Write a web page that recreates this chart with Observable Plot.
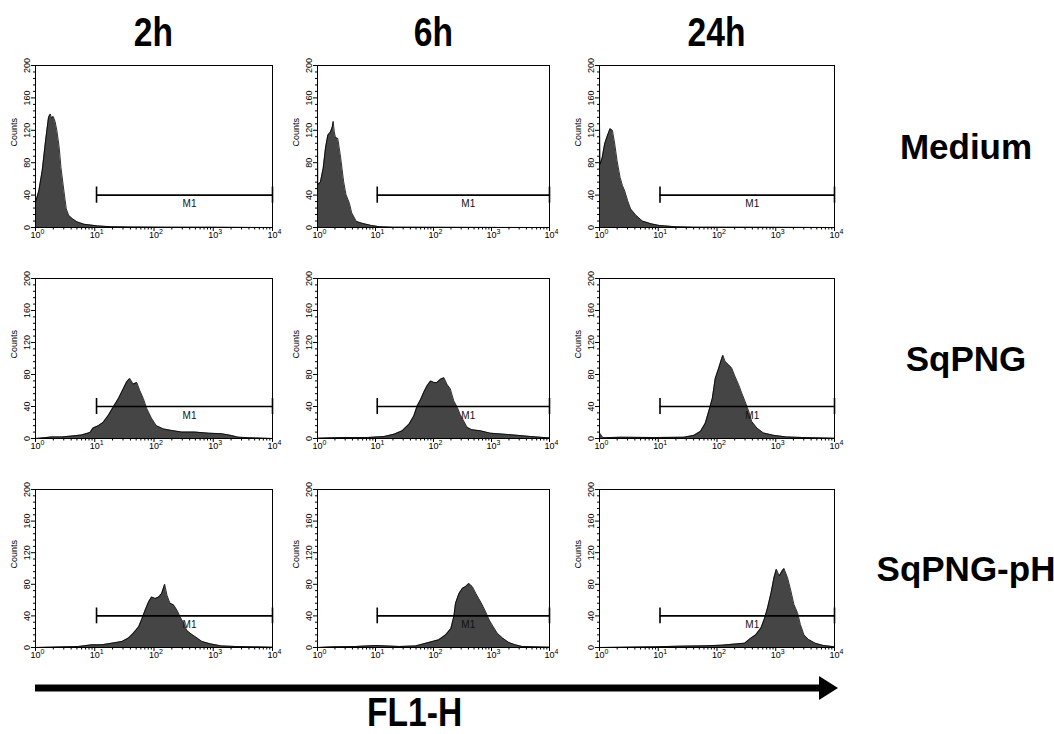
<!DOCTYPE html>
<html>
<head>
<meta charset="utf-8">
<script src="https://cdn.jsdelivr.net/npm/d3@7"></script>
<script src="https://cdn.jsdelivr.net/npm/@observablehq/plot@0.6"></script>
<style>
  body { margin: 0; background: #fff; }
  #root { position: relative; width: 1054px; height: 734px; overflow: hidden; background: #fff;
          font-family: "Liberation Sans", Arial, Helvetica, sans-serif; color: #000; }
  .panel { position: absolute; }
  .title { position: absolute; font-weight: bold; text-align: center; white-space: nowrap; line-height: 1; }
  .cond { display: inline-block; transform: scaleX(0.84); transform-origin: center; }
</style>
</head>
<body>
<div id="root"></div>
<script>
// ---------- data ----------
const times = ["2h", "6h", "24h"];
const treatments = ["Medium", "SqPNG", "SqPNG-pH"];
const axisTitle = "FL1-H";
const yLabel = "Counts";

const xTicks = [0, 1, 2, 3, 4];                 // log10 of FL1-H
const xTickBase = "10";
const xTickExponents = ["0", "1", "2", "3", "4"];
const yTicks = [0, 40, 80, 120, 160, 200];
const yMinorTicks = [8,16,24,32,48,56,64,72,88,96,104,112,128,136,144,152,168,176,184,192];

// marker M1 (gate)
const gateName = "M1";
const gateStart = 1.03;   // log10 units
const gateEnd = 4;
const gateLevel = 40;     // counts
const gateCap = 10;       // counts, half height of the end caps
const gateLabelX = 2.6;

// histograms: [log10(FL1-H), counts]
const medium2h = [[0,31],[0.056,45],[0.113,70],[0.17,107],[0.22,136],[0.25,140],[0.27,135],[0.30,137],[0.33,131],[0.36,120],[0.40,99],[0.43,74],[0.48,45],[0.52,23],[0.56,15],[0.62,11],[0.70,7],[0.82,4],[0.93,3],[1.05,2],[1.27,1],[1.6,0.6],[2.2,0.4],[3.0,0.3],[4,0]];
const medium6h = [[0,120],[0.006,53],[0.05,56],[0.098,73],[0.138,98],[0.178,114],[0.224,118],[0.255,124],[0.27,131],[0.29,118],[0.31,111],[0.35,110],[0.40,86],[0.45,57],[0.49,41],[0.55,30],[0.59,18],[0.67,7.5],[0.78,5],[0.93,2.5],[1.07,1],[1.3,0.4],[4,0]];
const medium24h = [[0,131],[0.01,78],[0.046,86],[0.087,103],[0.133,113],[0.18,122],[0.22,120],[0.26,103],[0.30,82],[0.35,62],[0.39,52],[0.43,45],[0.48,33],[0.53,23],[0.62,15],[0.73,8],[0.88,4.5],[1.02,2.5],[1.28,1],[1.6,0.4],[4,0]];
const sqpng2h = [[0,0],[0.15,1],[0.27,2],[0.44,2],[0.61,3],[0.78,4.5],[0.92,7.5],[0.97,13],[1.06,16],[1.14,20],[1.23,29],[1.31,39],[1.40,50],[1.48,62],[1.54,71],[1.59,75],[1.65,68],[1.71,70],[1.76,60],[1.82,50],[1.88,37],[1.96,25],[2.04,16],[2.16,12],[2.30,10],[2.47,8],[2.69,8],[2.92,6.7],[3.14,6],[3.31,3.7],[3.42,1.7],[3.59,1],[4,0]];
const sqpng6h = [[0,0.4],[0.40,1.2],[0.86,1.2],[1.15,2.5],[1.32,5.4],[1.46,9.6],[1.58,18],[1.66,28],[1.72,41],[1.78,49],[1.83,57.5],[1.89,66],[1.95,72],[2.01,70],[2.06,70],[2.12,74],[2.18,76],[2.23,68],[2.29,62],[2.35,47],[2.41,39],[2.46,30],[2.52,22],[2.58,14],[2.66,11],[2.81,9.6],[2.98,6.7],[3.21,5.4],[3.44,4],[3.67,2.5],[3.90,1.2],[4,0.8]];
const sqpng24h = [[0,7],[0.06,1],[0.37,1.6],[0.93,1.2],[1.44,1.6],[1.61,4],[1.72,9],[1.80,19],[1.86,34],[1.92,50],[1.97,75],[2.03,88],[2.08,100],[2.10,104],[2.14,96],[2.20,92],[2.25,88],[2.31,77],[2.37,67],[2.42,57],[2.48,46],[2.54,34],[2.59,21.5],[2.68,13],[2.79,7],[2.96,4],[3.18,2],[3.46,1.2],[4,0.4]];
const ph2h = [[0,0],[0.73,1.3],[0.95,3.4],[1.12,3.4],[1.29,5.5],[1.46,7.6],[1.57,12],[1.65,18],[1.74,26],[1.79,35],[1.85,47],[1.91,58],[1.96,64],[2.02,62],[2.08,64],[2.13,68.5],[2.18,80],[2.22,66],[2.27,56],[2.33,54],[2.39,47],[2.44,39],[2.50,31],[2.55,22],[2.61,18],[2.69,14],[2.81,7.6],[2.95,4.6],[3.14,2],[3.37,1.3],[4,0.4]];
const ph6h = [[0,0],[0.26,0.8],[0.66,1.3],[1.0,2.5],[1.41,1.3],[1.69,2],[1.87,5.5],[1.98,7.6],[2.09,9.7],[2.21,16],[2.30,24],[2.35,39],[2.38,56],[2.44,68.5],[2.50,75],[2.55,77],[2.61,81],[2.67,77],[2.73,68.5],[2.78,62],[2.84,54],[2.90,45],[2.96,35],[3.01,28.6],[3.10,18],[3.19,12],[3.30,6.3],[3.41,3.4],[3.53,1.3],[4,0.4]];
const ph24h = [[0,0],[0.39,0.4],[0.95,0.9],[1.35,1.7],[1.80,2.1],[2.08,3],[2.30,4.3],[2.47,5.5],[2.58,12],[2.66,16],[2.75,25],[2.81,37],[2.86,50],[2.92,69],[2.97,88.5],[3.01,99],[3.06,90.6],[3.11,97],[3.14,100],[3.20,88.5],[3.25,74],[3.31,54.5],[3.37,44],[3.42,29],[3.48,16],[3.56,10],[3.67,5.5],[3.81,2.6],[4,0.9]];

const grid = [
  [medium2h, medium6h, medium24h],
  [sqpng2h, sqpng6h, sqpng24h],
  [ph2h, ph6h, ph24h]
];

// ---------- layout ----------
const colLeft = [35, 317, 599];
const colWidth = [237, 232, 235];
const rowTop = [65, 278, 489];
const rowHeight = [162, 160, 158];
const mL = 36, mR = 8, mT = 8, mB = 20;
const histFill = "#454545";

// log minor ticks
const xMinor = [];
for (let n = 0; n < 4; n++) for (let k = 2; k <= 9; k++) xMinor.push(n + Math.log10(k));

const root = document.getElementById("root");

grid.forEach((row, r) => {
  row.forEach((hist, c) => {
    const chart = Plot.plot({
      width: mL + colWidth[c] + mR,
      height: mT + rowHeight[r] + mB,
      marginLeft: mL, marginRight: mR, marginTop: mT, marginBottom: mB,
      style: { fontFamily: "'Liberation Sans', Arial, Helvetica, sans-serif", fontSize: "9px", color: "#000", background: "transparent", overflow: "visible" },
      x: { domain: [0, 4], axis: null },
      y: { domain: [0, 200], axis: null },
      marks: [
        Plot.areaY(hist, { x: d => d[0], y: d => d[1], fill: histFill, curve: "linear" }),
        Plot.lineY(hist, { x: d => d[0], y: d => d[1], stroke: "#000", strokeWidth: 0.8 }),
        Plot.frame({ stroke: "#000", strokeWidth: 1 }),
        Plot.ruleY([gateLevel], { y: d => d, x1: gateStart, x2: gateEnd, stroke: "#000", strokeWidth: 1.6 }),
        Plot.ruleX([gateStart, gateEnd], { x: d => d, y1: gateLevel - gateCap, y2: gateLevel + gateCap, stroke: "#000", strokeWidth: 1.6 }),
        Plot.text([gateName], { x: gateLabelX, y: gateLevel, text: d => d, dy: 9, fontSize: 10, fill: "#111" }),
        Plot.axisX({ ticks: xTicks, tickSize: 4, fill: "none", label: null }),
        Plot.axisX({ ticks: xMinor, tickSize: 2.5, fill: "none", label: null }),
        Plot.text(xTicks, { x: d => d, text: () => xTickBase, frameAnchor: "bottom", dy: 10, fontSize: 9, fill: "#000" }),
        Plot.text(xTicks, { x: d => d, text: (d, i) => xTickExponents[i], frameAnchor: "bottom", dx: 7, dy: 6, fontSize: 7, fill: "#000" }),
        Plot.axisY({ ticks: yTicks, tickSize: 4, tickRotate: -90, tickPadding: 2, fontSize: 9, fill: "#000", label: null }),
        Plot.axisY({ ticks: yMinorTicks, tickSize: 2, fill: "none", label: null }),
        Plot.text([yLabel], { text: d => d, frameAnchor: "left", dx: -21, rotate: -90, fontSize: 9, fill: "#000" })
      ]
    });
    const holder = document.createElement("div");
    holder.className = "panel";
    holder.style.left = (colLeft[c] - mL) + "px";
    holder.style.top = (rowTop[r] - mT) + "px";
    holder.appendChild(chart);
    root.appendChild(holder);
  });
});

// column titles
times.forEach((t, c) => {
  const d = document.createElement("div");
  d.className = "title";
  d.style.fontSize = "40px";
  d.style.width = "200px";
  d.style.left = (colLeft[c] + colWidth[c] / 2 - 100) + "px";
  d.style.top = "12px";
  d.innerHTML = `<span class="cond">${t}</span>`;
  root.appendChild(d);
});

// row titles
treatments.forEach((t, r) => {
  const d = document.createElement("div");
  d.className = "title";
  d.style.fontSize = "35px";
  d.style.width = "220px";
  d.style.left = (966 - 110) + "px";
  d.style.top = (rowTop[r] + rowHeight[r] / 2 - 17) + "px";
  d.textContent = t;
  root.appendChild(d);
});

// arrow + axis title
const ns = "http://www.w3.org/2000/svg";
const arrow = document.createElementNS(ns, "svg");
arrow.setAttribute("width", 1054);
arrow.setAttribute("height", 30);
arrow.style.position = "absolute";
arrow.style.left = "0px";
arrow.style.top = "673px";
arrow.innerHTML = `<line x1="35" y1="15" x2="824" y2="15" stroke="#000" stroke-width="7"/>
  <polygon points="819,3 838,15 819,27" fill="#000"/>`;
root.appendChild(arrow);

const ax = document.createElement("div");
ax.className = "title";
ax.style.fontSize = "40px";
ax.style.width = "300px";
ax.style.left = (415 - 150) + "px";
ax.style.top = "692px";
ax.innerHTML = `<span class="cond">${axisTitle}</span>`;
root.appendChild(ax);
</script>
</body>
</html>
